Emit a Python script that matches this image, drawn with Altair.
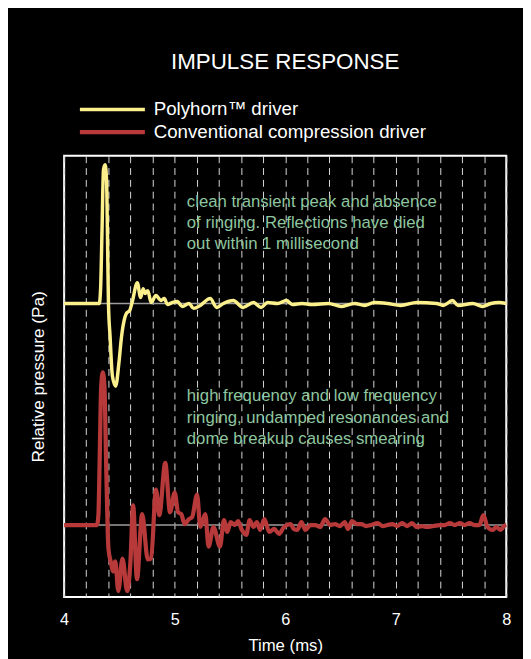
import altair as alt
import pandas as pd

# ---- data ----
series_names = ["Polyhorn™ driver", "Conventional compression driver"]
series_colors = ["#fcf08c", "#b8393a"]
series_widths = [3.5, 4.3]
baseline_offsets = [0.74, -1.51]

yellow_t = [4.000, 4.318, 4.330, 4.343, 4.356, 4.371, 4.384, 4.392, 4.401, 4.416,
            4.437, 4.466, 4.496, 4.519, 4.550, 4.564, 4.594, 4.615, 4.662, 4.692,
            4.715, 4.733, 4.757, 4.787, 4.831, 4.876, 4.906, 4.935, 4.980, 5.024,
            5.069, 5.129, 5.173, 5.232, 5.321, 5.381, 5.441, 5.530, 5.619, 5.713,
            5.782, 5.841, 5.931, 6.011, 6.064, 6.153, 6.242, 6.390, 6.510, 6.628,
            6.717, 6.806, 6.925, 7.044, 7.192, 7.370, 7.430, 7.513, 7.564, 7.697,
            7.786, 7.860, 7.935, 8.000]
yellow_p = [0.00, 0.00, 0.15, 0.75, 1.36, 1.41, 1.25, 0.70, 0.00, -0.34,
            -0.74, -0.84, -0.60, -0.34, -0.14, -0.10, -0.07, 0.01, 0.21, 0.06,
            0.15, 0.10, 0.13, 0.01, 0.08, 0.03, 0.05, -0.01, 0.01, 0.02,
            -0.03, 0.00, -0.05, -0.02, 0.05, -0.04, 0.00, 0.03, -0.04, 0.01,
            -0.04, 0.01, 0.00, 0.03, -0.01, 0.00, -0.01, 0.00, -0.03, 0.00,
            -0.02, 0.01, 0.00, -0.02, 0.01, 0.00, -0.02, 0.03, -0.02, 0.00,
            -0.03, 0.00, 0.01, 0.00]

red_t = [4.000, 4.297, 4.310, 4.321, 4.335, 4.350, 4.365, 4.380, 4.401, 4.421,
         4.445, 4.463, 4.490, 4.528, 4.570, 4.600, 4.624, 4.659, 4.706, 4.757,
         4.787, 4.831, 4.861, 4.915, 4.958, 5.000, 5.031, 5.060, 5.090, 5.129,
         5.158, 5.203, 5.232, 5.277, 5.307, 5.351, 5.410, 5.446, 5.476, 5.505,
         5.544, 5.574, 5.604, 5.648, 5.678, 5.713, 5.743, 5.773, 5.811, 5.856,
         5.900, 5.945, 5.989, 6.049, 6.078, 6.109, 6.147, 6.183, 6.227, 6.272,
         6.316, 6.361, 6.405, 6.450, 6.494, 6.539, 6.568, 6.604, 6.646, 6.688,
         6.732, 6.777, 6.836, 6.880, 6.925, 6.969, 7.014, 7.058, 7.103, 7.147,
         7.192, 7.237, 7.281, 7.341, 7.400, 7.445, 7.490, 7.534, 7.579, 7.623,
         7.668, 7.712, 7.757, 7.793, 7.831, 7.875, 7.911, 7.949, 7.980, 8.000]
red_p = [0.00, 0.00, 0.10, 0.63, 1.40, 1.55, 1.40, 0.63, -0.24, -0.37,
         -0.47, -0.37, -0.67, -0.34, -0.67, -0.37, 0.20, -0.55, 0.11, -0.35,
         -0.34, 0.36, 0.10, 0.63, 0.13, 0.33, 0.13, 0.11, 0.01, 0.06,
         0.08, 0.31, -0.02, 0.11, -0.22, -0.02, -0.22, 0.05, -0.07, 0.03,
         0.00, 0.04, -0.04, -0.10, 0.05, -0.02, 0.03, -0.05, 0.06, -0.07,
         -0.04, -0.09, -0.02, 0.01, -0.04, -0.05, 0.03, -0.05, 0.00, 0.00,
         -0.02, 0.06, 0.00, 0.01, -0.01, 0.03, -0.04, 0.04, 0.01, 0.01,
         -0.01, 0.00, 0.02, -0.01, 0.00, 0.01, -0.01, 0.02, -0.01, 0.02,
         -0.02, -0.01, -0.02, -0.01, 0.00, 0.00, 0.02, 0.00, 0.02, 0.00,
         0.02, 0.00, 0.00, 0.10, -0.02, -0.05, -0.02, -0.05, -0.01, 0.00]

note_lines = ["clean transient peak and absence",
              "of ringing. Reflections have died",
              "out within 1 millisecond",
              "high frequency and low frequency",
              "ringing, undamped resonances and",
              "dome breakup causes smearing"]
note_t = [5.11, 5.11, 5.11, 5.11, 5.11, 5.11]
note_y = [1.72, 1.505, 1.29, -0.25, -0.47, -0.69]

grid_ticks = [4.0, 4.2, 4.4, 4.6, 4.8, 5.0, 5.2, 5.4, 5.6, 5.8, 6.0,
              6.2, 6.4, 6.6, 6.8, 7.0, 7.2, 7.4, 7.6, 7.8, 8.0]
x_domain = [4, 8]
y_domain = [-2.24, 2.24]

# ---- tables ----
rows = []
for name, off, ts, ps in [(series_names[0], baseline_offsets[0], yellow_t, yellow_p),
                          (series_names[1], baseline_offsets[1], red_t, red_p)]:
    for t, p in zip(ts, ps):
        rows.append({"series": name, "t": t, "y": p + off})
df = pd.DataFrame(rows)
base_df = pd.DataFrame({"y": baseline_offsets})
notes_df = pd.DataFrame({"t": note_t, "y": note_y, "text": note_lines})

FONT = "Liberation Sans"
x_scale = alt.Scale(domain=x_domain, nice=False, zero=False)
y_scale = alt.Scale(domain=y_domain, nice=False, zero=False)

x_axis = alt.Axis(
    values=grid_ticks, grid=True, gridColor="#d8d8d8", gridDash=[7, 5], gridWidth=1,
    ticks=False, domain=False,
    labelExpr="abs(datum.value - round(datum.value)) < 0.001 ? format(datum.value, 'd') : ''",
    labelColor="white", labelFontSize=16.5, labelFont=FONT, labelPadding=15, labelFlush=False,
    title="Time (ms)", titleColor="white", titleFontSize=17, titleFont=FONT,
    titleFontWeight="normal", titlePadding=10,
)
y_axis = alt.Axis(
    grid=False, ticks=False, labels=False, domain=False,
    title="Relative pressure (Pa)", titleColor="white", titleFontSize=17.5, titleFont=FONT,
    titleFontWeight="normal", titlePadding=17,
)

base_rules = alt.Chart(base_df).mark_rule(color="#9c9c9c", strokeWidth=1.5).encode(
    y=alt.Y("y:Q", scale=y_scale, axis=y_axis)
)

lines = alt.Chart(df).mark_line(interpolate="monotone").encode(
    x=alt.X("t:Q", scale=x_scale, axis=x_axis),
    y=alt.Y("y:Q", scale=y_scale, axis=y_axis),
    strokeWidth=alt.StrokeWidth(
        "series:N", scale=alt.Scale(domain=series_names, range=series_widths), legend=None
    ),
    color=alt.Color(
        "series:N",
        scale=alt.Scale(domain=series_names, range=series_colors),
        sort=series_names,
        legend=alt.Legend(
            title=None, orient="none", legendX=13.5, legendY=-58.5,
            symbolType="stroke", symbolSize=4356, symbolStrokeWidth=3,
            labelFontSize=19, labelColor="white", labelFont=FONT, labelOffset=6.5,
            labelLimit=400, rowPadding=0, padding=0, clipHeight=23,
        ),
    ),
)

notes = alt.Chart(notes_df).mark_text(
    align="left", baseline="alphabetic", font=FONT, fontSize=17, color="#8ec69f"
).encode(
    x=alt.X("t:Q", scale=x_scale, axis=x_axis),
    y=alt.Y("y:Q", scale=y_scale, axis=y_axis),
    text="text:N",
)

chart = alt.layer(base_rules, lines, notes).properties(
    width=449,
    height=448,
    title=alt.Title("IMPULSE RESPONSE", fontSize=22.7, font=FONT, fontWeight="normal",
                    color="white", anchor="middle", baseline="alphabetic", offset=7),
    autosize=alt.AutoSizeParams(type="none"),
    padding={"left": 57, "top": 145, "right": 17, "bottom": 58},
    background="black",
).configure_view(stroke="#ffffff", strokeWidth=2)

chart.save("out.html", embed_options={"renderer": "svg", "actions": False})
